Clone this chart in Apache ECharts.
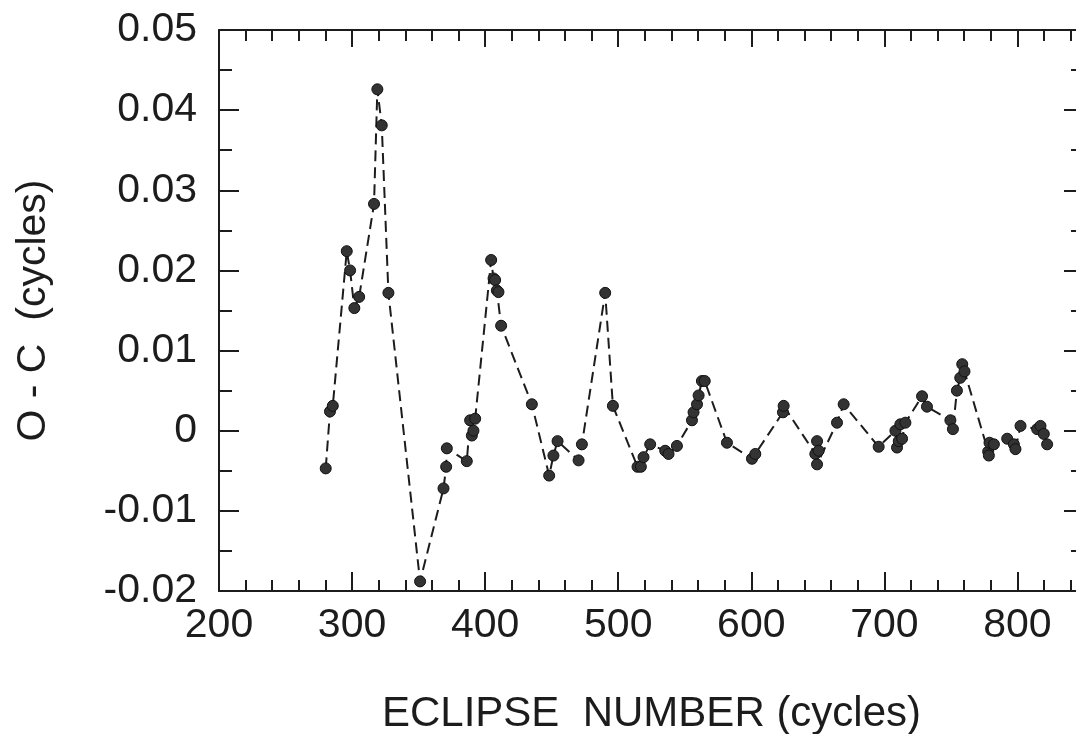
<!DOCTYPE html>
<html>
<head>
<meta charset="utf-8">
<script src="https://cdn.jsdelivr.net/npm/echarts@6/dist/echarts.min.js"></script>
<style>
  html, body { margin: 0; padding: 0; background: #fff; }
  #main { width: 1076px; height: 734px; }
</style>
</head>
<body>
<div id="main"></div>
<script>
// eclipse number (cycles) of each timing
var eclipseNumber = [
  280.2, 283.4, 285.5, 296.0, 298.5, 301.7, 305.3, 316.5, 319.0, 322.3,
  327.3, 351.1, 368.7, 370.7, 371.2, 386.2, 388.7, 390.0, 391.2, 392.5,
  404.5, 406.3, 407.5, 408.8, 410.0, 412.0, 435.1, 448.1, 451.3, 454.4,
  470.2, 472.7, 490.2, 496.0, 514.5, 517.0, 519.0, 524.0, 535.3, 537.8,
  544.1, 555.4, 556.6, 559.2, 560.4, 562.9, 565.0, 581.7, 600.5, 603.0,
  623.8, 624.3, 648.1, 649.4, 650.6, 649.4, 664.4, 669.4, 695.7, 708.3,
  709.5, 710.8, 712.0, 713.3, 715.8, 728.3, 732.0, 749.6, 751.5, 754.5,
  757.0, 758.5, 760.2, 778.0, 778.5, 779.0, 782.3, 792.3, 797.3, 798.5,
  802.3, 814.8, 817.3, 819.8, 822.3
];
// O - C residuals (cycles)
var ocValue = [
  -0.0047, 0.0024, 0.0031, 0.0224, 0.0200, 0.0153, 0.0167, 0.0283, 0.0426, 0.0381,
  0.0172, -0.0188, -0.0072, -0.0045, -0.0022, -0.0038, 0.0013, -0.0006, 0.0000, 0.0015,
  0.0213, 0.0190, 0.0188, 0.0175, 0.0173, 0.0131, 0.0033, -0.0056, -0.0031, -0.0013,
  -0.0037, -0.0017, 0.0172, 0.0031, -0.0045, -0.0045, -0.0033, -0.0017, -0.0025, -0.0029,
  -0.0019, 0.0013, 0.0023, 0.0033, 0.0044, 0.0062, 0.0062, -0.0015, -0.0035, -0.0029,
  0.0023, 0.0031, -0.0029, -0.0013, -0.0025, -0.0042, 0.0010, 0.0033, -0.0020, 0.0000,
  -0.0021, -0.0013, 0.0008, -0.0010, 0.0010, 0.0043, 0.0030, 0.0013, 0.0002, 0.0050,
  0.0066, 0.0083, 0.0074, -0.0026, -0.0031, -0.0015, -0.0017, -0.0010, -0.0017, -0.0023,
  0.0006, 0.0002, 0.0006, -0.0004, -0.0017
];

var ink = '#1c1c1c';
var font = 'Liberation Sans, Arial, sans-serif';

var points = eclipseNumber.map(function (n, i) {
  return [n, ocValue[i]];
});

var myChart = echarts.init(document.getElementById('main'));

// major (100) and minor (20) ticks are drawn by two overlapping axes
function xAxisPart(pos, step, tickLen, withLabel) {
  return {
    type: 'value',
    position: pos,
    min: 200,
    max: 850,
    interval: step,
    axisLine: { show: step === 100, onZero: false, lineStyle: { color: ink, width: 2 } },
    axisTick: { show: true, inside: true, length: tickLen, lineStyle: { color: ink, width: 2 } },
    axisLabel: {
      show: withLabel,
      showMaxLabel: false,
      margin: 14,
      color: ink,
      fontSize: 41,
      fontFamily: font
    },
    splitLine: { show: false }
  };
}

function yAxisPart(pos, withLabel) {
  return {
    type: 'value',
    position: pos,
    min: -0.02,
    max: 0.05,
    interval: 0.01,
    axisLine: { show: true, onZero: false, lineStyle: { color: ink, width: 2 } },
    axisTick: { show: true, inside: true, length: 20, lineStyle: { color: ink, width: 2 } },
    minorTick: { show: true, splitNumber: 2, length: 13, lineStyle: { color: ink, width: 2 } },
    axisLabel: {
      show: withLabel,
      margin: 22,
      color: ink,
      fontSize: 41,
      fontFamily: font,
      formatter: function (v) {
        return Math.abs(v) < 1e-9 ? '0' : v.toFixed(2);
      }
    },
    splitLine: { show: false },
    minorSplitLine: { show: false }
  };
}

var xBottom = xAxisPart('bottom', 100, 19, true);
xBottom.name = 'ECLIPSE  NUMBER (cycles)';
xBottom.nameLocation = 'middle';
xBottom.nameGap = 102;
xBottom.nameTextStyle = { color: ink, fontSize: 42, fontFamily: font };

var yLeft = yAxisPart('left', true);
yLeft.name = 'O - C  (cycles)';
yLeft.nameLocation = 'middle';
yLeft.nameGap = 165;
yLeft.nameTextStyle = { color: ink, fontSize: 41, fontFamily: font };

var option = {
  backgroundColor: '#fff',
  animation: false,
  grid: {
    left: 219,
    top: 30,
    bottom: 143,
    right: -8,
    outerBoundsMode: 'none'
  },
  xAxis: [
    xBottom,
    xAxisPart('bottom', 20, 11, false),
    xAxisPart('top', 100, 17, false),
    xAxisPart('top', 20, 11, false)
  ],
  yAxis: [
    yLeft,
    yAxisPart('right', false)
  ],
  series: [{
    type: 'line',
    xAxisIndex: 0,
    yAxisIndex: 0,
    data: points,
    symbol: 'circle',
    symbolSize: 11,
    showAllSymbol: true,
    itemStyle: { color: '#333', borderColor: '#111', borderWidth: 1 },
    lineStyle: { color: ink, width: 2, type: [11, 6] }
  }]
};
myChart.setOption(option);
</script>
</body>
</html>
